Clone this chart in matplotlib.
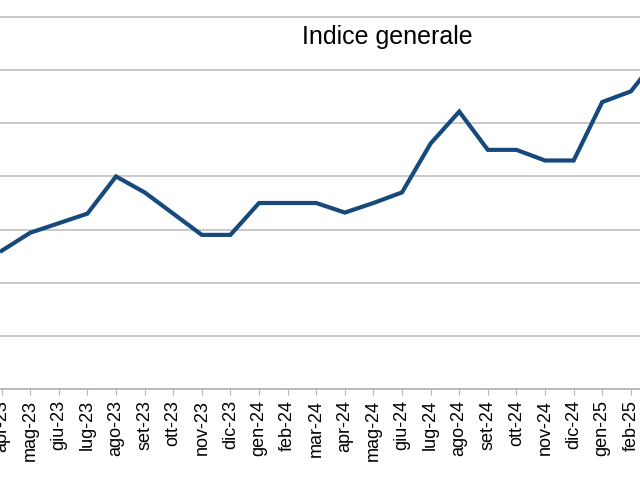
import numpy as np
import matplotlib.pyplot as plt

plt.rcParams['font.family'] = ['Liberation Sans', 'DejaVu Sans']

mesi = ["apr-23", "mag-23", "giu-23", "lug-23", "ago-23", "set-23", "ott-23",
        "nov-23", "dic-23", "gen-24", "feb-24", "mar-24", "apr-24", "mag-24",
        "giu-24", "lug-24", "ago-24", "set-24", "ott-24", "nov-24", "dic-24",
        "gen-25", "feb-25", "mar-25"]
indice = [119.30, 119.47, 119.56, 119.65, 120.00, 119.85, 119.65,
          119.45, 119.45, 119.75, 119.75, 119.75, 119.66, 119.75,
          119.85, 120.31, 120.61, 120.25, 120.25, 120.15, 120.15,
          120.70, 120.80, 121.14]
griglia = [118.0, 118.5, 119.0, 119.5, 120.0, 120.5, 121.0, 121.5]


def main():
    fig = plt.figure(figsize=(6.4, 4.8), dpi=100)
    ax = fig.add_axes([0.0, 91 / 480, 1.0, 389 / 480])

    x = np.arange(len(mesi))
    ax.plot(x, indice, color='#164a7c', linewidth=3.0, solid_joinstyle='miter')

    ax.set_yticks(griglia)
    ax.yaxis.grid(True, color='#c0c0c0', linewidth=1.2)
    ax.set_axisbelow(True)
    ax.tick_params(axis='y', left=False, labelleft=False)

    ax.set_xticks(x)
    ax.set_xticklabels(mesi, rotation=90, fontsize=13)
    ax.tick_params(axis='x', direction='out', length=4, color='#b3b3b3', pad=4)

    # limiti dopo i tick, altrimenti set_xticks li allarga
    ax.set_xlim(-0.056, 22.32)
    ax.set_ylim(118.0, 121.66)

    for s in ['left', 'right', 'top']:
        ax.spines[s].set_visible(False)
    ax.spines['bottom'].set_color('#b3b3b3')
    ax.spines['bottom'].set_linewidth(1.2)

    fig.text(387 / 640, 1 - 37 / 480, "Indice generale", fontsize=18,
             ha='center', va='center')

    plt.savefig("out.png", dpi=100)


if __name__ == '__main__':
    main()
